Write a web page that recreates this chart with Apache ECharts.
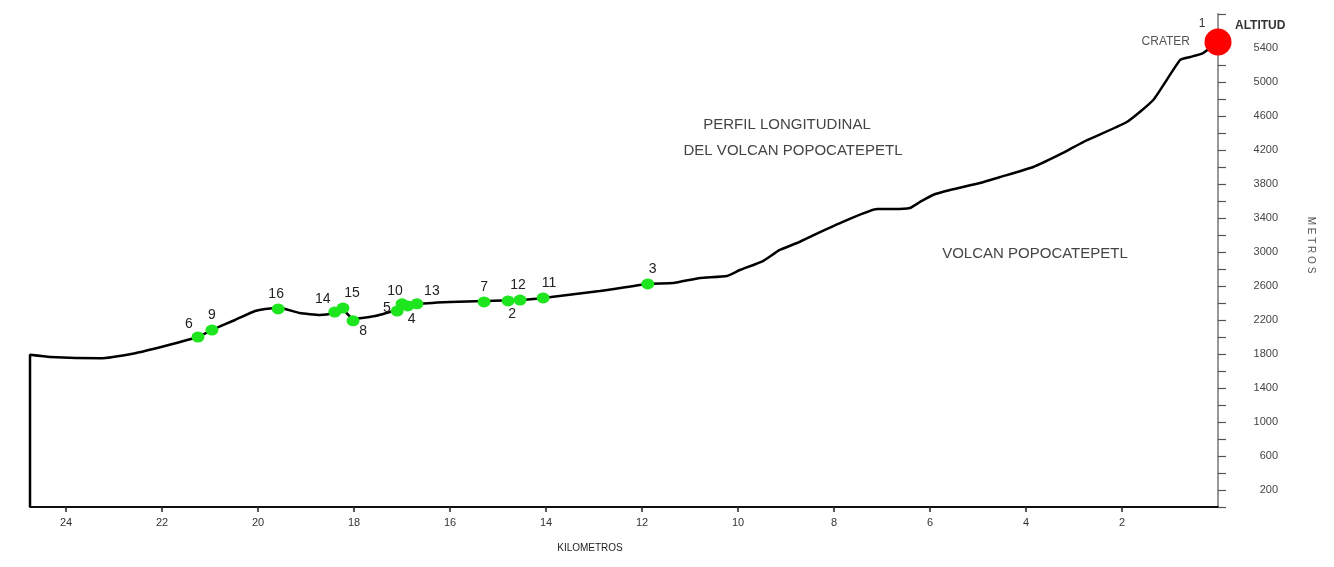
<!DOCTYPE html>
<html>
<head>
<meta charset="utf-8">
<script src="https://cdn.jsdelivr.net/npm/echarts@6/dist/echarts.min.js"></script>
<style>
html,body{margin:0;padding:0;background:#fff;}
#chart{width:1334px;height:567px;}
</style>
</head>
<body>
<div id="chart"></div>
<script>
// Profile (km from crater, altitude in metres)
const profileKm  = [24.75, 24.75, 24.33, 23.29, 22.56, 21.94, 21.25, 20.96, 20.48, 20.06, 19.85, 19.54, 19.13, 18.71, 18.40, 18.23, 18.02, 17.56, 17.10, 16.69, 16.0, 15.29, 14.54, 14.06, 12.88, 11.88, 11.35, 10.79, 10.23, 9.96, 9.48, 9.13, 8.77, 8.29, 7.73, 7.10, 6.77, 6.42, 6.21, 5.94, 5.58, 4.96, 4.54, 3.85, 3.23, 2.81, 1.90, 1.35, 0.79, 0.58, 0.31, 0.17, 0];
const profileAlt = [0, 1790, 1765, 1750, 1810, 1895, 2000, 2082, 2200, 2306, 2330, 2341, 2282, 2259, 2282, 2318, 2212, 2247, 2318, 2388, 2412, 2424, 2435, 2459, 2541, 2624, 2635, 2694, 2718, 2788, 2894, 3024, 3106, 3235, 3376, 3506, 3506, 3518, 3588, 3671, 3729, 3812, 3882, 4000, 4165, 4294, 4529, 4788, 5259, 5294, 5341, 5400, 5470];

// Numbered points
const pointIds  = ['6', '9', '16', '14', '15', '8', '5', '10', '4', '13', '7', '2', '12', '11', '3'];
const pointKm   = [21.25, 20.96, 19.58, 18.40, 18.23, 18.02, 17.10, 17.00, 16.88, 16.69, 15.29, 14.79, 14.54, 14.06, 11.88];
const pointAlt  = [2000, 2082, 2330, 2294, 2340, 2190, 2305, 2390, 2365, 2390, 2412, 2424, 2435, 2459, 2624];

// Crater
const craterKm = 0;
const craterAlt = 5470;

// Axis ticks
const yLabelValues = [200, 600, 1000, 1400, 1800, 2200, 2600, 3000, 3400, 3800, 4200, 4600, 5000, 5400];
const xLabelValues = [24, 22, 20, 18, 16, 14, 12, 10, 8, 6, 4, 2];

// label placement styles per point id
const labelStyle = {
  '6':  {position: 'top', offset: [-9, 2]},
  '9':  {position: 'top', offset: [0, 0]},
  '16': {position: 'top', offset: [-2, 0]},
  '14': {position: 'top', offset: [-12, 2]},
  '15': {position: 'top', offset: [9, 0]},
  '8':  {position: 'bottom', offset: [10, -4]},
  '5':  {position: 'left', offset: [2, -3]},
  '10': {position: 'top', offset: [-7, 2]},
  '4':  {position: 'bottom', offset: [4, -1]},
  '13': {position: 'top', offset: [15, 2]},
  '7':  {position: 'top', offset: [0, 0]},
  '2':  {position: 'bottom', offset: [4, -1]},
  '12': {position: 'top', offset: [-2, 0]},
  '11': {position: 'top', offset: [6, 0]},
  '3':  {position: 'top', offset: [5, 0]}
};

const FONT = '"Liberation Sans", Arial, sans-serif';
const ELLIPSE = 'path://M0 1A1 1 0 1 0 2 1A1 1 0 1 0 0 1Z';
const chart = echarts.init(document.getElementById('chart'));

const lineData = profileKm.map((k, i) => [k, profileAlt[i]]);
const pointData = pointIds.map((id, i) => ({
  name: id,
  value: [pointKm[i], pointAlt[i]],
  label: Object.assign({show: true}, labelStyle[id])
}));

chart.setOption({
  animation: false,
  backgroundColor: '#ffffff',
  grid: {left: 30, right: 116, top: 14, bottom: 60},
  xAxis: {
    type: 'value', inverse: true, min: 0, max: 24.75, interval: 2,
    axisLine: {show: true, lineStyle: {color: '#111', width: 2}},
    axisTick: {show: true, length: 5, lineStyle: {color: '#222', width: 1.5},
      customValues: xLabelValues},
    axisLabel: {color: '#333', fontSize: 11, fontFamily: FONT, margin: 10,
      customValues: xLabelValues,
      formatter: v => (xLabelValues.indexOf(v) >= 0 ? String(v) : '')},
    splitLine: {show: false}
  },
  yAxis: {
    type: 'value', position: 'right', min: 0, max: 5800, interval: 200,
    axisLine: {show: true, lineStyle: {color: '#999', width: 2}},
    axisTick: {show: true, inside: false, length: 8, lineStyle: {color: '#555', width: 1.2}},
    axisLabel: {color: '#444', fontSize: 11, fontFamily: FONT, margin: 60, align: 'right',
      formatter: v => (yLabelValues.indexOf(v) >= 0 ? String(v) : '')},
    splitLine: {show: false}
  },
  series: [
    {
      type: 'line', data: lineData, showSymbol: false, symbol: 'none', smooth: 0.15,
      lineStyle: {color: '#000', width: 2.5}, clip: false, z: 2
    },
    {
      type: 'scatter', data: pointData, symbol: ELLIPSE, symbolSize: [13, 11],
      itemStyle: {color: '#1ee61e', opacity: 1}, clip: false, z: 3,
      label: {show: true, formatter: p => p.name, color: '#222', fontSize: 14, fontFamily: FONT, distance: 2}
    },
    {
      type: 'scatter', data: [{name: '1', value: [craterKm, craterAlt]}],
      symbolSize: 27, itemStyle: {color: '#ff0000', opacity: 1}, clip: false, z: 4,
      label: {show: true, formatter: '1', position: 'top', offset: [-16, 6], color: '#333', fontSize: 12, fontFamily: FONT}
    }
  ],
  graphic: [
    {type: 'text', left: 1235, top: 20, style: {text: 'ALTITUD', font: 'bold 12px ' + FONT, fill: '#333'}},
    {type: 'text', x: 1190, y: 42, style: {text: 'CRATER', font: '12px ' + FONT, fill: '#555', align: 'right', verticalAlign: 'middle'}},
    {type: 'text', x: 787, y: 125, style: {text: 'PERFIL LONGITUDINAL', font: '15px ' + FONT, fill: '#444', align: 'center', verticalAlign: 'middle'}},
    {type: 'text', x: 793, y: 151, style: {text: 'DEL VOLCAN POPOCATEPETL', font: '15px ' + FONT, fill: '#444', align: 'center', verticalAlign: 'middle'}},
    {type: 'text', x: 1035, y: 254, style: {text: 'VOLCAN POPOCATEPETL', font: '15px ' + FONT, fill: '#444', align: 'center', verticalAlign: 'middle'}},
    {type: 'text', x: 590, y: 548, style: {text: 'KILOMETROS', font: '10px ' + FONT, fill: '#222', align: 'center', verticalAlign: 'middle'}},
    {type: 'text', x: 1311, y: 245, rotation: -Math.PI / 2, style: {text: 'M E T R O S', font: '10px ' + FONT, fill: '#555', align: 'center', verticalAlign: 'middle'}}
  ]
});
</script>
</body>
</html>
